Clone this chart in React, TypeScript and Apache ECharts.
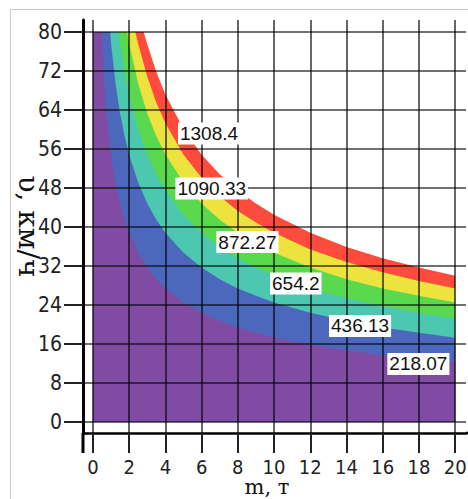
import React, { useEffect, useRef } from 'react';
import * as echarts from 'echarts';

// Mass (t) sample points along the horizontal axis
const masses = [0.6, 0.75, 1, 1.25, 1.5, 1.75, 2, 2.5, 3, 3.5, 4, 5, 6, 7, 8, 9, 10, 12, 14, 16, 18, 20];

// Contour levels and their labels
const levelLabels = ['218.07', '436.13', '654.2', '872.27', '1090.33', '1308.4'];

// Mass at which each contour leaves the top edge (v = 80 km/h)
const topMass = [0.5, 0.96, 1.43, 1.89, 2.34, 2.8];

// Speed (km/h) of each contour boundary at the sample masses (null = above the plot top)
const speed218 = [70.8, 63.3, 54.8, 49.1, 44.8, 41.5, 38.8, 34.7, 31.7, 29.3, 27.4, 24.5, 22.4, 20.7, 19.4, 18.3, 17.3, 15.8, 14.7, 13.7, 12.9, 12.3];
const speed436 = [null, null, 77.6, 69.4, 63.3, 58.6, 54.8, 49.1, 44.8, 41.5, 38.8, 34.7, 31.7, 29.3, 27.4, 25.9, 24.5, 22.4, 20.7, 19.4, 18.3, 17.3];
const speed654 = [null, null, null, null, 77.6, 71.8, 67.2, 60.1, 54.8, 50.8, 47.5, 42.5, 38.8, 35.9, 33.6, 31.7, 30.0, 27.4, 25.4, 23.8, 22.4, 21.2];
const speed872 = [null, null, null, null, null, null, 77.6, 69.4, 63.3, 58.6, 54.9, 49.1, 44.8, 41.5, 38.8, 36.6, 34.7, 31.7, 29.3, 27.4, 25.9, 24.5];
const speed1090 = [null, null, null, null, null, null, null, 77.5, 70.8, 65.5, 61.3, 54.8, 50.1, 46.3, 43.3, 40.9, 38.8, 35.4, 32.8, 30.7, 28.9, 27.4];
const speed1308 = [null, null, null, null, null, null, null, null, 77.5, 71.8, 67.2, 60.1, 54.8, 50.8, 47.5, 44.8, 42.5, 38.8, 35.9, 33.6, 31.7, 30.0];

// Contour label anchor positions [m, v]
const labelPoints = [
  [17.97, 11.9],
  [14.75, 19.7],
  [11.2, 28.4],
  [8.53, 36.9],
  [6.56, 47.9],
  [6.41, 59.2],
];

const xTicks = [0, 2, 4, 6, 8, 10, 12, 14, 16, 18, 20];
const yTicks = [0, 8, 16, 24, 32, 40, 48, 56, 64, 72, 80];
const bandColors = ['#7f4ba3', '#4c68bd', '#4cc7b0', '#5bd94e', '#ece33f', '#ff4b3e'];

export default function App() {
  const ref = useRef<HTMLDivElement>(null);
  useEffect(() => {
    const chart = echarts.init(ref.current!, null, { renderer: 'svg' });
    const allSpeeds = [speed218, speed436, speed654, speed872, speed1090, speed1308];
    const curveData = allSpeeds.map((sp, k) => {
      const pts: number[][] = [[0, 80], [topMass[k], 80]];
      masses.forEach((m, i) => {
        if (sp[i] != null) pts.push([m, sp[i] as number]);
      });
      return pts;
    });
    const tickFont = "'Liberation Sans Narrow', 'DejaVu Sans Condensed', 'Arial Narrow', sans-serif";
    const gridLine = { show: true, lineStyle: { color: 'rgba(0,0,0,0.75)', width: 1.6 } };
    const areaSeries = curveData
      .map((d, k) => ({
        type: 'line',
        data: d,
        showSymbol: false,
        symbol: 'none',
        lineStyle: { width: 0 },
        areaStyle: { color: bandColors[k], opacity: 1 },
        z: 1,
        silent: true,
      }))
      .reverse();
    const option = {
      animation: false,
      backgroundColor: '#fff',
      grid: { left: 83, right: 2, top: 20, bottom: 66, containLabel: false, outerBoundsMode: 'none' },
      xAxis: {
        type: 'value',
        min: -0.55,
        max: 20.6,
        z: 4,
        name: 'm, т',
        nameLocation: 'middle',
        nameGap: 45,
        nameMoveOverlap: false,
        nameTextStyle: { fontFamily: "'DejaVu Serif', serif", fontSize: 21, lineHeight: 18, color: '#111', padding: [0, 15, 0, 0] },
        axisLine: { show: true, onZero: false, lineStyle: { color: '#000', width: 2.5 } },
        axisTick: { show: true, inside: false, length: 20, customValues: xTicks, lineStyle: { color: '#222', width: 2 } },
        axisLabel: { show: true, customValues: xTicks, margin: 24.5, lineHeight: 18, fontFamily: tickFont, fontSize: 20, color: '#222' },
        splitLine: gridLine,
      },
      yAxis: {
        type: 'value',
        min: -2.26,
        max: 82.46,
        z: 4,
        name: 'υ, км/ч',
        nameLocation: 'middle',
        nameRotate: -90,
        nameGap: 41,
        nameMoveOverlap: false,
        nameTextStyle: { fontFamily: "'DejaVu Serif', serif", fontSize: 28, color: '#111' },
        axisLine: { show: true, onZero: false, lineStyle: { color: '#000', width: 3 } },
        axisTick: { show: true, inside: false, length: 19, customValues: yTicks, lineStyle: { color: '#222', width: 2 } },
        axisLabel: { show: true, customValues: yTicks, margin: 21, fontFamily: tickFont, fontSize: 21, color: '#222' },
        splitLine: gridLine,
      },
      series: [
        ...areaSeries,
        {
          type: 'scatter',
          z: 10,
          symbolSize: 1,
          itemStyle: { color: 'rgba(0,0,0,0)', opacity: 1 },
          silent: true,
          data: labelPoints.map((p, i) => ({ value: p, name: levelLabels[i] })),
          labelLayout: { hideOverlap: false },
          label: {
            show: true,
            position: 'inside',
            formatter: '{b}',
            backgroundColor: '#fff',
            padding: [2, 2, 1, 2],
            fontSize: 19,
            color: '#111',
            fontFamily: "'Liberation Sans', sans-serif",
          },
        },
      ],
      graphic: [
        { type: 'rect', shape: { x: 10.5, y: 9.5, width: 480, height: 520 }, style: { fill: 'none', stroke: '#c8c8c8', lineWidth: 1 }, silent: true },
        { type: 'line', shape: { x1: 83, y1: 433, x2: 83, y2: 453 }, style: { stroke: '#000', lineWidth: 3 }, silent: true },
        { type: 'line', shape: { x1: 466, y1: 433, x2: 468, y2: 433 }, style: { stroke: '#000', lineWidth: 2.5 }, silent: true },
      ],
    };
    chart.setOption(option as any);
    return () => chart.dispose();
  }, []);
  return <div ref={ref} style={{ position: 'absolute', left: 0, top: 0, width: 468, height: 499 }} />;
}
